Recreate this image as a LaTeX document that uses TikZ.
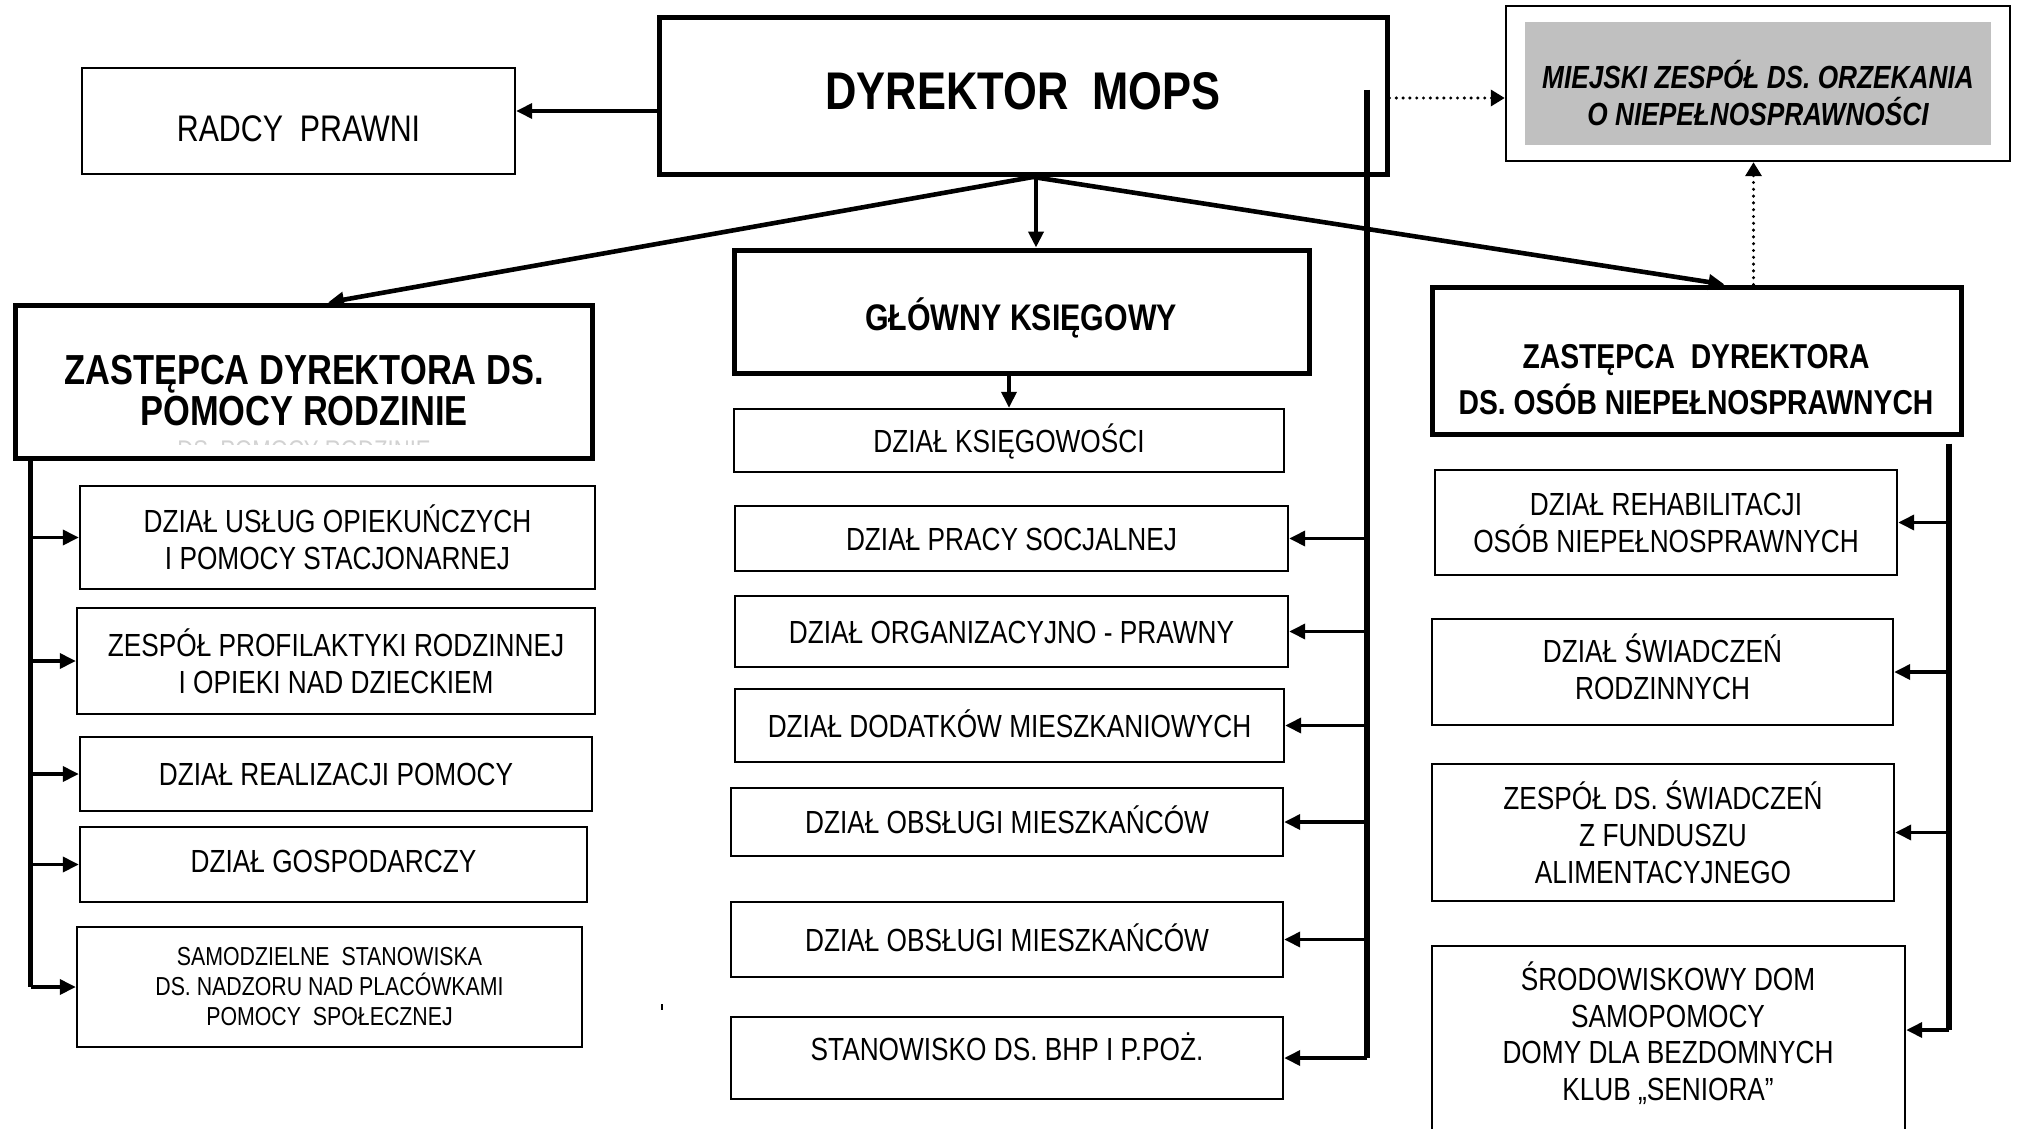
\documentclass[tikz,border=0pt]{standalone}
\usepackage{fontspec}
\setmainfont{Liberation Sans}[FakeStretch=0.82]
\usetikzlibrary{arrows.meta,calc}
\definecolor{grayfill}{RGB}{192,192,192}
\begin{document}
\begin{tikzpicture}[x=0.5pt,y=-0.5pt,
  thickbox/.style={draw, line width=2.5pt, inner sep=0pt},
  thinbox/.style={draw, line width=1.2pt, inner sep=0pt, align=center, font=\fontsize{16pt}{18.5pt}\selectfont},
  oneline/.style={text height=11.5pt, text depth=0pt},
  txt/.style={align=center, inner sep=0pt},
  tip/.style={-{Triangle[length=8pt,width=7.5pt]}},
  bigarr/.style={tip, line width=2.3pt},
  arr/.style={tip, line width=1.8pt},
  spine/.style={line width=2.6pt},
  dotarr/.style={-{Triangle[length=7pt,width=8pt]}, line width=1.7pt, line cap=round, dash pattern=on 0pt off 3.4pt},
]
\useasboundingbox (0,0) rectangle (2018,1129);

% top row
\node[thickbox, minimum width=364pt, minimum height=78.5pt] (dyr) at (1023,96) {};
\node[txt, font=\bfseries\fontsize{26.5pt}{30pt}\selectfont] (tdyr) at (1023,91) {DYREKTOR~~MOPS};

\node[draw, line width=1.2pt, minimum width=216.5pt, minimum height=53pt] (radcy) at (298.5,121) {};
\node[txt, font=\fontsize{18.5pt}{21pt}\selectfont] (tradcy) at (298.5,129) {RADCY~~PRAWNI};

\node[draw, line width=1.2pt, minimum width=252pt, minimum height=77.5pt] (miej) at (1758,83.5) {};
\node[fill=grayfill, inner sep=0pt, minimum width=233pt, minimum height=61.5pt] (miejin) at (1758,83.5) {};
\node[txt, font=\bfseries\itshape\fontsize{16pt}{18.5pt}\selectfont] (tmiej) at (1758,93) {MIEJSKI ZESPÓŁ DS. ORZEKANIA\\O NIEPEŁNOSPRAWNOŚCI};

% second row
\node[thickbox, minimum width=288.5pt, minimum height=76.5pt] (zl) at (303.5,381.5) {};
\node[txt, font=\bfseries\fontsize{21pt}{20.5pt}\selectfont] (tzl) at (304,391) {ZASTĘPCA DYREKTORA DS.\\POMOCY RODZINIE};
\begin{scope}
  \clip (170,440.5) rectangle (440,444.5);
  \node[txt, text=gray!35, font=\fontsize{13.5pt}{15pt}\selectfont] (ghost) at (304,450) {DS. POMOCY RODZINIE};
\end{scope}

\node[thickbox, minimum width=287.5pt, minimum height=61.5pt] (gk) at (1021.5,311.5) {};
\node[txt, font=\bfseries\fontsize{18.5pt}{21pt}\selectfont] (tgk) at (1021,318) {GŁÓWNY KSIĘGOWY};

\node[thickbox, minimum width=264.5pt, minimum height=73.5pt] (zr) at (1696.5,360.5) {};
\node[txt, font=\bfseries\fontsize{17.25pt}{23pt}\selectfont] (tzr) at (1696,380) {ZASTĘPCA~~DYREKTORA\\DS. OSÓB NIEPEŁNOSPRAWNYCH};

% middle column
\node[thinbox, oneline, minimum width=275pt, minimum height=31.5pt] (m1) at (1009,440.5) {DZIAŁ KSIĘGOWOŚCI};
\node[thinbox, oneline, minimum width=276.5pt, minimum height=32.5pt] (m2) at (1011.5,538.5) {DZIAŁ PRACY SOCJALNEJ};
\node[thinbox, oneline, minimum width=276.5pt, minimum height=35.5pt] (m3) at (1011.5,631.5) {DZIAŁ ORGANIZACYJNO - PRAWNY};
\node[thinbox, oneline, minimum width=274.5pt, minimum height=36.5pt] (m4) at (1009.5,725.5) {DZIAŁ DODATKÓW MIESZKANIOWYCH};
\node[thinbox, oneline, minimum width=276pt, minimum height=34pt] (m5) at (1007,822) {DZIAŁ OBSŁUGI MIESZKAŃCÓW};
\node[thinbox, oneline, minimum width=276pt, minimum height=37.5pt] (m6) at (1007,939.5) {DZIAŁ OBSŁUGI MIESZKAŃCÓW};
\node[thinbox, minimum width=276pt, minimum height=41pt] (m7) at (1007,1058) {};
\node[txt, oneline, font=\fontsize{16pt}{18.5pt}\selectfont] (tm7) at (1007,1049) {STANOWISKO DS. BHP I P.POŻ.};

% left column
\node[thinbox, minimum width=257.5pt, minimum height=51.5pt] (l1) at (337.5,537.5) {DZIAŁ USŁUG OPIEKUŃCZYCH\\I POMOCY STACJONARNEJ};
\node[thinbox, minimum width=259pt, minimum height=53pt] (l2) at (336,661) {ZESPÓŁ PROFILAKTYKI RODZINNEJ\\I OPIEKI NAD DZIECKIEM};
\node[thinbox, oneline, minimum width=256pt, minimum height=37pt] (l3) at (336,774) {DZIAŁ REALIZACJI POMOCY};
\node[thinbox, minimum width=253.5pt, minimum height=37.5pt] (l4) at (333.5,864.5) {};
\node[txt, oneline, font=\fontsize{16pt}{18.5pt}\selectfont] (tl4) at (333.5,861) {DZIAŁ GOSPODARCZY};
\node[thinbox, minimum width=252.5pt, minimum height=60pt, font=\fontsize{13pt}{15pt}\selectfont] (l5) at (329.5,987) {SAMODZIELNE~~STANOWISKA\\DS. NADZORU NAD PLACÓWKAMI\\POMOCY~~SPOŁECZNEJ};

% right column
\node[thinbox, minimum width=231pt, minimum height=52.5pt] (r1) at (1666,522.5) {DZIAŁ REHABILITACJI\\OSÓB NIEPEŁNOSPRAWNYCH};
\node[thinbox, minimum width=230.5pt, minimum height=53pt] (r2) at (1662.5,672) {};
\node[txt, font=\fontsize{16pt}{18.5pt}\selectfont] (tr2) at (1662.5,667) {DZIAŁ ŚWIADCZEŃ\\RODZINNYCH};
\node[thinbox, minimum width=231pt, minimum height=68.5pt] (r3) at (1663,832.5) {ZESPÓŁ DS. ŚWIADCZEŃ\\Z FUNDUSZU\\ALIMENTACYJNEGO};
\node[thinbox, minimum width=236.5pt, minimum height=97pt] (r4) at (1668.5,1043) {};
\node[txt, font=\fontsize{16pt}{18.25pt}\selectfont] (tr4) at (1668,1033) {ŚRODOWISKOWY DOM\\SAMOPOMOCY\\DOMY DLA BEZDOMNYCH\\KLUB „SENIORA”};

% connectors from director
\draw[arr] ($(dyr.west)+(0,15)$) -- ($(radcy.east)+(0,-10)$);
\coordinate (apex) at ($(dyr.south)+(10,0)$);
\draw[bigarr] (apex) -- ($(zl.north)+(24.5,0)$);
\draw[bigarr] ($(dyr.south)+(13,0)$) -- ($(gk.north)+(14.5,0)$);
\draw[bigarr] (apex) -- ($(zr.north)+(28,0)$);
\draw[dotarr] ($(dyr.east)+(0,2)$) -- ($(dyr.east -| miej.west)+(0,2)$);
\draw[dotarr] ($(zr.north)+(57,0)$) -- ($(miej.south)+(-4.5,0)$);

% chief accountant
\draw[arr] (gk.south -| m1.north) -- (m1.north);

% middle spine
\coordinate (mtop) at (1367,90);
\draw[spine] (mtop) -- (mtop |- m7.east);
\foreach \n in {m2,m3,m4,m5,m6,m7}
  \draw[arr] (mtop |- \n.east) -- (\n.east);

% left spine
\coordinate (ltop) at ($(zl.south west)+(18,0)$);
\draw[spine] (ltop) -- (ltop |- l5.west);
\foreach \n in {l1,l2,l3,l4,l5}
  \draw[arr] (ltop |- \n.west) -- (\n.west);

% right spine
\coordinate (rtop) at ($(zr.south)+(252.5,7)$);
\coordinate (r4in) at ($(r4.east)+(0,-13)$);
\draw[spine] (rtop) -- (rtop |- r4in);
\foreach \n in {r1,r2,r3}
  \draw[arr] (rtop |- \n.east) -- (\n.east);
\draw[arr] (rtop |- r4in) -- (r4in);

% small stray mark
\draw[line width=0.8pt] (662,1004) -- (662,1010);
\end{tikzpicture}
\end{document}
